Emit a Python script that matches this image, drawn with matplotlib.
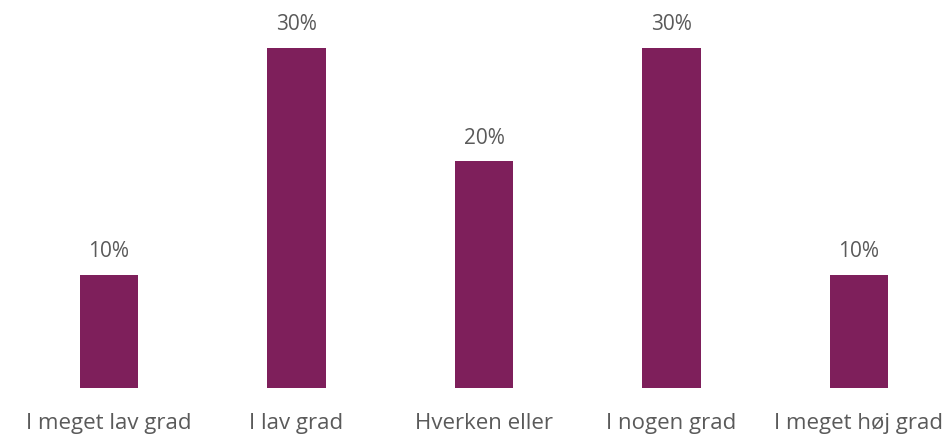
import matplotlib.pyplot as plt

categories = ['I meget lav grad', 'I lav grad', 'Hverken eller', 'I nogen grad', 'I meget høj grad']
values = [10, 30, 20, 30, 10]
labels = ['10%', '30%', '20%', '30%', '10%']

plt.rcParams['font.family'] = ['Open Sans', 'DejaVu Sans']

fig = plt.figure(figsize=(9.53, 4.40), dpi=100)
ax = fig.add_axes([0, 52 / 440, 1, 388 / 440])

x = range(len(categories))
bars = ax.bar(x, values, width=0.31, color='#7e1f5b')
for b, lab in zip(bars, labels):
    ax.annotate(lab, (b.get_x() + b.get_width() / 2, b.get_height()),
                xytext=(0, 9), textcoords='offset points',
                ha='center', va='bottom', fontsize=15, color='#5a5a5a')

ax.set_xlim(-109 / 187.5, (953 - 109) / 187.5)
ax.set_ylim(0, 388 / 340 * 30)
ax.set_xticks(list(x))
ax.set_xticklabels(categories, fontsize=16, color='#5a5a5a')
ax.tick_params(axis='x', length=0, pad=18)
ax.set_yticks([])
for s in ax.spines.values():
    s.set_visible(False)

fig.savefig('out.png', dpi=100)
